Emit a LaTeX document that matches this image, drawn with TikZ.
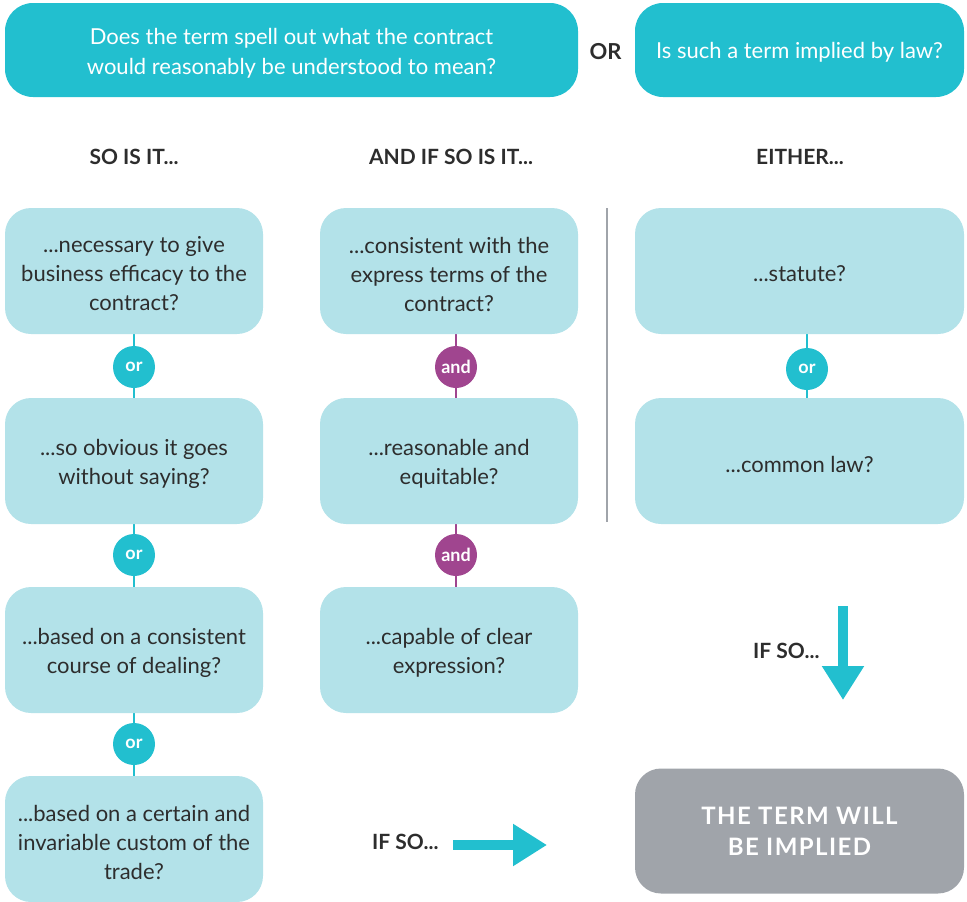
\documentclass[tikz,border=0pt]{standalone}
\usepackage{fontspec}
\setmainfont{Lato}
\usetikzlibrary{arrows.meta,backgrounds}
\definecolor{teal}{RGB}{34,191,207}
\definecolor{pale}{RGB}{179,226,233}
\definecolor{plum}{RGB}{160,69,143}
\definecolor{slate}{RGB}{160,164,170}
\definecolor{ink}{RGB}{45,45,45}
\definecolor{rule}{RGB}{160,164,170}
\begin{document}
\begin{tikzpicture}[x=1pt,y=-1pt,
  qbox/.style={rectangle,rounded corners=26pt,fill=pale,minimum height=126pt,inner sep=0pt},
  qtext/.style={text=ink,align=center,font=\fontsize{22}{29}\selectfont,yshift=-3pt},
  topbox/.style={rectangle,rounded corners=28pt,fill=teal,minimum height=94pt,inner sep=0pt},
  toptext/.style={text=white,align=center,font=\fontsize{22}{30}\selectfont,yshift=-3pt},
  head/.style={text=ink,font=\bfseries\fontsize{21}{25}\selectfont},
  joinor/.style={circle,fill=teal,text=white,minimum size=42pt,inner sep=0pt,
    font=\bfseries\fontsize{18}{20}\selectfont},
  joinand/.style={circle,fill=plum,text=white,minimum size=42pt,inner sep=0pt,
    font=\bfseries\fontsize{18}{20}\selectfont},
  tealink/.style={draw=teal,line width=2pt},
  plumlink/.style={draw=plum,line width=2pt},
  bigarrow/.style={draw=teal,line width=10pt,-{Triangle[width=40pt,length=34pt]}},
]
\useasboundingbox (0,0) rectangle (967,902);

% question banners
\node[topbox,minimum width=573pt,label={[toptext]center:{Does the term spell out what the contract\\would reasonably be understood to mean?}}] (q1) at (291.5,50) {};
\node[topbox,minimum width=329pt,label={[toptext,yshift=1pt]center:{Is such a term implied by law?}}] (q2) at (799.5,50) {};
\node[text=ink,font=\bfseries\fontsize{22}{25}\selectfont] (orq) at (605.5,52) {OR};

% column headings
\node[head] (h1) at (134,157) {SO IS IT...};
\node[head] (h2) at (451,157) {AND IF SO IS IT...};
\node[head] (h3) at (800,157) {EITHER...};

% first column
\node[qbox,minimum width=258pt,label={[qtext]center:{...necessary to give\\business efficacy to the\\contract?}}] (a1) at (134,271) {};
\node[qbox,minimum width=258pt,label={[qtext]center:{...so obvious it goes\\without saying?}}] (a2) at (134,461) {};
\node[qbox,minimum width=258pt,label={[qtext]center:{...based on a consistent\\course of dealing?}}] (a3) at (134,650) {};
\node[qbox,minimum width=258pt,label={[qtext]center:{...based on a certain and\\invariable custom of the\\trade?}}] (a4) at (134,839) {};

% second column
\node[qbox,minimum width=258pt,label={[qtext]center:{...consistent with the\\express terms of the\\contract?}}] (b1) at (449,271) {};
\node[qbox,minimum width=258pt,label={[qtext]center:{...reasonable and\\equitable?}}] (b2) at (449,461) {};
\node[qbox,minimum width=258pt,label={[qtext]center:{...capable of clear\\expression?}}] (b3) at (449,650) {};

% third column
\node[qbox,minimum width=329pt,label={[qtext]center:{...statute?}}] (c1) at (799.5,271) {};
\node[qbox,minimum width=329pt,label={[qtext]center:{...common law?}}] (c2) at (799.5,461) {};

% result
\node[rectangle,rounded corners=26pt,fill=slate,text=white,align=center,
  minimum width=329pt,minimum height=125pt,
  font=\bfseries\fontsize{24}{31}\selectfont\addfontfeatures{LetterSpace=6}] (res) at (799.5,831) {THE TERM WILL\\BE IMPLIED};

% joining words
\node[joinor] (o1) at (134,367) {or};
\node[joinor] (o2) at (134,555) {or};
\node[joinor] (o3) at (134,744) {or};
\node[joinand] (n1) at (456,367) {and};
\node[joinand] (n2) at (456,555) {and};
\node[joinor] (o4) at (807,369) {or};

\begin{scope}[on background layer]
  \draw[tealink] (a1.south) -- (a2.north);
  \draw[tealink] (a2.south) -- (a3.north);
  \draw[tealink] (a3.south) -- (a4.north);
  \draw[plumlink] (b1.south -| n1) -- (b2.north -| n1);
  \draw[plumlink] (b2.south -| n2) -- (b3.north -| n2);
  \draw[tealink] (c1.south -| o4) -- (c2.north -| o4);
\end{scope}

% divider between the columns
\coordinate (d1) at (607,208);
\coordinate (d2) at (607,522);
\draw[draw=rule,line width=1.2pt] (d1) -- (d2);

% "if so" arrows
\node[head,anchor=east] (if1) at (823,651) {IF SO...};
\coordinate (dn1) at (843,606);
\coordinate (dn2) at (843,700);
\draw[bigarrow] (dn1) -- (dn2);

\node[head,anchor=east] (if2) at (442,842) {IF SO...};
\coordinate (rt1) at (453,845);
\coordinate (rt2) at (547,845);
\draw[bigarrow] (rt1) -- (rt2);
\end{tikzpicture}
\end{document}
